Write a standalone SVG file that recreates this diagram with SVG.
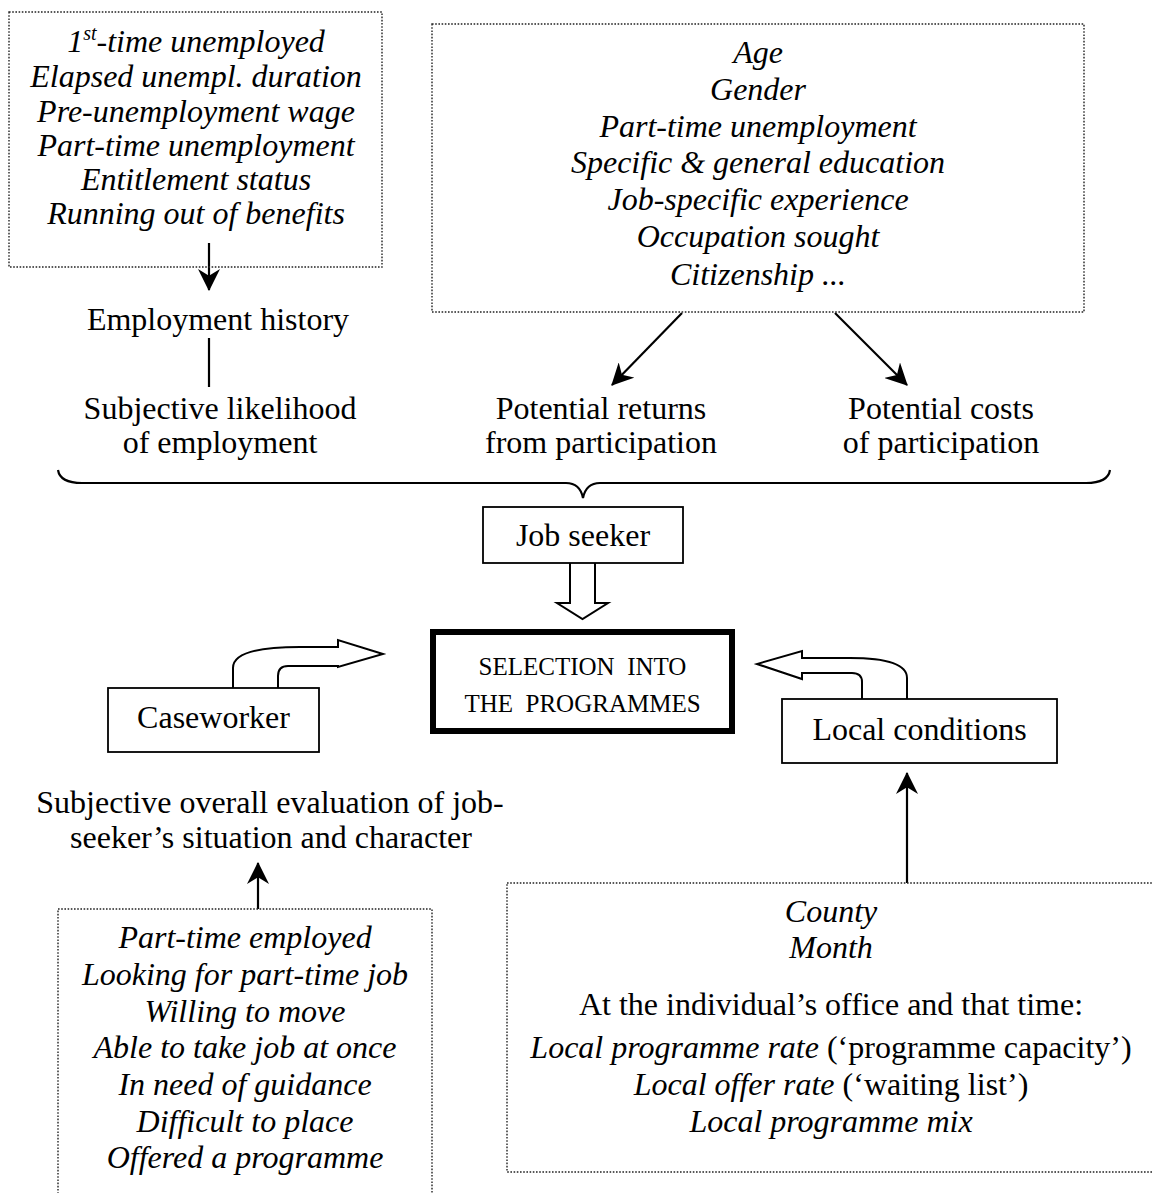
<svg xmlns="http://www.w3.org/2000/svg" width="1152" height="1193" viewBox="0 0 1152 1193">
<style>
  text { font-family: "Liberation Serif", "Times New Roman", serif; font-size: 32px; fill: #000; text-anchor: middle; }
  .it { font-style: italic; }
  .caps { font-size: 25px; }
  .dot { fill: none; stroke: #222; stroke-width: 1.4; stroke-dasharray: 1.6 1.6; }
  .box { fill: #fff; stroke: #000; stroke-width: 1.8; }
  .thick { fill: #fff; stroke: #000; stroke-width: 6; }
  .ln { fill: none; stroke: #000; stroke-width: 2.2; }
  .blk { fill: #fff; stroke: #000; stroke-width: 2; stroke-linejoin: miter; }
</style>
<defs>
  <marker id="ah" markerUnits="userSpaceOnUse" markerWidth="22" markerHeight="22" viewBox="0 0 20 20" refX="19" refY="10" orient="auto">
    <path d="M0,0 L20,10 L0,20 L6,10 z" fill="#000"/>
  </marker>
</defs>
<rect width="1152" height="1193" fill="#fff"/>

<g id="connectors">
  <line class="ln" x1="209" y1="243" x2="209" y2="290" marker-end="url(#ah)"/>
  <line class="ln" x1="209" y1="338" x2="209" y2="387"/>
  <line class="ln" x1="682" y1="313" x2="612" y2="385" marker-end="url(#ah)"/>
  <line class="ln" x1="835" y1="313" x2="907" y2="385" marker-end="url(#ah)"/>
  <path class="ln" d="M58,470 Q60,483 82,483 L566,483 Q580,483 583,498 Q586,483 600,483 L1086,483 Q1108,483 1110,470"/>
  <path class="blk" d="M570,563 L570,603 L557,603 L582.5,619 L608,603 L595,603 L595,563"/>
  <path class="blk" d="M233,688 L233,668 Q233,647 300,647 L338,647 L338,640 L383,654 L338,667 L338,666 L288,666 Q278,666 278,676 L278,688"/>
  <path class="blk" d="M907,699 L907,678 Q907,658 850,658 L802,658 L802,651 L757,664 L802,679 L802,673 L852,673 Q862,673 862,682 L862,699"/>
  <line class="ln" x1="258" y1="909" x2="258" y2="863" marker-end="url(#ah)"/>
  <line class="ln" x1="907" y1="883" x2="907" y2="773" marker-end="url(#ah)"/>
</g>

<g id="employment-factors">
  <rect class="dot" x="9" y="12" width="373" height="255"/>
  <text class="it" x="196" y="52">1<tspan font-size="20" dy="-12">st</tspan><tspan dy="12">-time unemployed</tspan></text>
  <text class="it" x="196" y="87">Elapsed unempl. duration</text>
  <text class="it" x="196" y="122">Pre-unemployment wage</text>
  <text class="it" x="196" y="156">Part-time unemployment</text>
  <text class="it" x="196" y="190">Entitlement status</text>
  <text class="it" x="196" y="224">Running out of benefits</text>
</g>

<g id="personal-factors">
  <rect class="dot" x="432" y="24" width="652" height="288"/>
  <text class="it" x="758" y="63">Age</text>
  <text class="it" x="758" y="100">Gender</text>
  <text class="it" x="758" y="137">Part-time unemployment</text>
  <text class="it" x="758" y="173">Specific &amp; general education</text>
  <text class="it" x="758" y="210">Job-specific experience</text>
  <text class="it" x="758" y="247">Occupation sought</text>
  <text class="it" x="758" y="285">Citizenship ...</text>
</g>

<g id="employment-history">
  <text x="218" y="330">Employment history</text>
</g>
<g id="subjective-likelihood">
  <text x="220" y="419">Subjective likelihood</text>
  <text x="220" y="453">of employment</text>
</g>
<g id="potential-returns">
  <text x="601" y="419">Potential returns</text>
  <text x="601" y="453">from participation</text>
</g>
<g id="potential-costs">
  <text x="941" y="419">Potential costs</text>
  <text x="941" y="453">of participation</text>
</g>

<g id="job-seeker">
  <rect class="box" x="483" y="507" width="200" height="56"/>
  <text x="583" y="546">Job seeker</text>
</g>

<g id="selection">
  <rect class="thick" x="433" y="632" width="299" height="99"/>
  <text class="caps" x="582.5" y="675">SELECTION&#160; INTO</text>
  <text class="caps" x="582.5" y="712">THE&#160; PROGRAMMES</text>
</g>

<g id="caseworker">
  <rect class="box" x="108" y="688" width="211" height="64"/>
  <text x="213.5" y="728">Caseworker</text>
</g>

<g id="local-conditions">
  <rect class="box" x="782" y="699" width="275" height="64"/>
  <text x="919.5" y="740">Local conditions</text>
</g>

<g id="caseworker-evaluation">
  <text x="270" y="813">Subjective overall evaluation of job-</text>
  <text x="271" y="848">seeker’s situation and character</text>
</g>

<g id="caseworker-factors">
  <rect class="dot" x="58" y="909" width="374" height="290"/>
  <text class="it" x="245" y="948">Part-time employed</text>
  <text class="it" x="245" y="985">Looking for part-time job</text>
  <text class="it" x="245" y="1022">Willing to move</text>
  <text class="it" x="245" y="1058">Able to take job at once</text>
  <text class="it" x="245" y="1095">In need of guidance</text>
  <text class="it" x="245" y="1132">Difficult to place</text>
  <text class="it" x="245" y="1168">Offered a programme</text>
</g>

<g id="local-factors">
  <rect class="dot" x="507" y="883" width="650" height="289"/>
  <text class="it" x="831" y="922">County</text>
  <text class="it" x="831" y="958">Month</text>
  <text x="831" y="1015">At the individual’s office and that time:</text>
  <text x="831" y="1058"><tspan class="it">Local programme rate</tspan> (‘programme capacity’)</text>
  <text x="831" y="1095"><tspan class="it">Local offer rate</tspan> (‘waiting list’)</text>
  <text class="it" x="831" y="1132">Local programme mix</text>
</g>
</svg>
